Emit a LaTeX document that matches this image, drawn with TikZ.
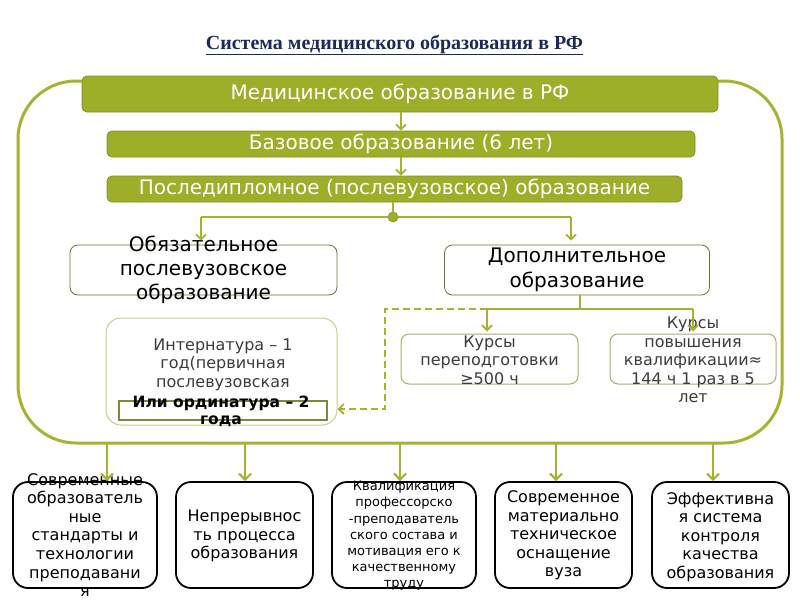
\documentclass[tikz,border=0pt]{standalone}
\usepackage{fontspec}
\setmainfont{DejaVu Sans}
\newfontfamily\titlefont{Liberation Serif}
\usetikzlibrary{arrows.meta}
\definecolor{barfill}{RGB}{157,174,40}
\definecolor{barline}{RGB}{130,145,30}
\definecolor{lineol}{RGB}{166,178,50}
\definecolor{titlecol}{RGB}{26,40,92}
\definecolor{boxline}{RGB}{110,110,60}
\definecolor{paleline}{RGB}{200,204,140}
\definecolor{kline}{RGB}{170,172,110}
\definecolor{ortline}{RGB}{130,135,60}
\definecolor{greytext}{RGB}{60,60,60}
\begin{document}
\begin{tikzpicture}[x=1pt,y=-1pt,
  bar/.style={fill=barfill,draw=barline,line width=0.8pt,rounded corners=5pt,text=white,inner sep=0pt,font=\fontsize{20}{23}\selectfont},
  midbox/.style={draw=boxline,line width=0.8pt,rounded corners=8pt,fill=white,inner sep=0pt},
  paleb/.style={draw=paleline,line width=1pt,rounded corners=15pt,fill=white,inner sep=0pt},
  kbox/.style={draw=kline,line width=1pt,rounded corners=8pt,fill=white,inner sep=0pt},
  botbox/.style={draw=black,line width=1.8pt,rounded corners=15pt,fill=white,inner sep=0pt,minimum height=106pt},
  txt/.style={align=center,inner sep=0pt},
  conn/.style={draw=lineol,line width=1.8pt},
  arr/.style={conn,-{Straight Barb[length=5pt,width=10pt]}},
  arrb/.style={draw=lineol,line width=2.2pt,-{Straight Barb[length=6pt,width=12pt]}},
  bf/.style={font=\fontsize{16}{18.6}\selectfont}
]
\useasboundingbox (0,0) rectangle (800,600);

% title
\node[txt,text=titlecol] (title) at (394.5,45) {\titlefont\bfseries\fontsize{20}{23}\selectfont\underline{Система медицинского образования в РФ}};

% big frame
\node[draw=lineol,line width=3pt,rounded corners=58pt,minimum width=764pt,minimum height=362pt,inner sep=0pt] (frame) at (400,262) {};

% bars
\node[bar,minimum width=636pt,minimum height=36pt] (top) at (400,94) {Медицинское образование в РФ};
\node[bar,minimum width=588pt,minimum height=26pt] (base) at (401,144) {Базовое образование (6 лет)};
\node[bar,minimum width=575pt,minimum height=26pt] (post) at (394.5,189) {Последипломное (послевузовское) образование};
\node[circle,fill=barfill,draw=barline,line width=0.6pt,minimum size=10pt,inner sep=0pt] (dot) at (393,217) {};

\draw[arr] (top.south -| base.south) -- (base.north);
\draw[arr] (base.south) -- (base.south |- post.north);
\draw[conn] (post.south -| dot) -- (dot);

% second level
\node[midbox,minimum width=267pt,minimum height=50pt] (obz) at (203.5,270) {};
\node[txt,font=\fontsize{20}{24}\selectfont] (obzt) at (obz.center) {Обязательное\\послевузовское\\образование};
\node[midbox,minimum width=265pt,minimum height=50pt] (dop) at (577,270) {};
\node[txt,font=\fontsize{20}{25}\selectfont] (dopt) at (dop.center) {Дополнительное\\образование};

\coordinate (jl) at (201,217);
\coordinate (jr) at (571,217);
\draw[conn] (jl) -- (dot) -- (jr);
\draw[arr,shorten >=4pt] (jl) -- (jl |- obz.north);
\draw[arr,shorten >=4pt] (jr) -- (jr |- dop.north);

% third level
\node[paleb,minimum width=231pt,minimum height=107pt] (int) at (221.5,371.5) {};
\node[txt,bf,text=greytext] (intt) at (223,364.5) {Интернатура – 1\\год(первичная\\послевузовская};
\node[draw=ortline,line width=2pt,minimum width=208pt,minimum height=19pt,inner sep=0pt] (ort) at (223,410.5) {};
\node[txt,font=\bfseries\fontsize{15.5}{17.5}\selectfont] (ortt) at (221,411.5) {Или ординатура – 2\\года};

\node[kbox,minimum width=177pt,minimum height=50pt] (k1) at (489.5,359) {};
\node[txt,bf,text=greytext] (k1t) at (489.5,360) {Курсы\\переподготовки\\≥500 ч};
\node[kbox,minimum width=166pt,minimum height=50pt] (k2) at (693,359) {};
\node[txt,bf,text=greytext] (k2t) at (693,360) {Курсы\\повышения\\квалификации≈\\144 ч 1 раз в 5\\лет};

\coordinate (dj) at (580,309);
\coordinate (k1j) at (487,309);
\coordinate (k2j) at (693,309);
\draw[conn] (dop.south -| dj) -- (dj);
\draw[conn] (k1j) -- (k2j);
\draw[arr,shorten >=2pt] (k1j) -- (k1j |- k1.north);
\draw[arr,shorten >=2pt] (k2j) -- (k2j |- k2.north);
\coordinate (d1) at (385,309);
\coordinate (d2) at (385,409);
\draw[arr,dash pattern=on 7pt off 4pt] (k1j) -- (d1) -- (d2) -- (d2 -| int.east);

% bottom boxes
\node[botbox,minimum width=144pt] (b1) at (85,535) {};
\node[botbox,minimum width=137pt] (b2) at (244.5,535) {};
\node[botbox,minimum width=144pt] (b3) at (404,535) {};
\node[botbox,minimum width=137pt] (b4) at (563.5,535) {};
\node[botbox,minimum width=137pt] (b5) at (720.5,535) {};

\node[txt,bf] (b1t) at (85,535) {Современные\\образователь\\ные\\стандарты и\\технологии\\преподавани\\я};
\node[txt,bf] (b2t) at (244.5,536) {Непрерывнос\\ть процесса\\образования};
\node[txt,font=\fontsize{13}{16.2}\selectfont] (b3t) at (404,536) {Квалификация\\профессорско\\-преподаватель\\ского состава и\\мотивация его к\\качественному\\труду};
\node[txt,bf] (b4t) at (563.5,535.5) {Современное\\материально\\техническое\\оснащение\\вуза};
\node[txt,bf] (b5t) at (720.5,537) {Эффективна\\я система\\контроля\\качества\\образования};

\coordinate (a1) at (107,443);
\coordinate (a2) at (245,443);
\coordinate (a3) at (400,443);
\coordinate (a4) at (556,443);
\coordinate (a5) at (713,443);
\draw[arrb] (a1) -- (a1 |- b1.north);
\draw[arrb] (a2) -- (a2 |- b2.north);
\draw[arrb] (a3) -- (a3 |- b3.north);
\draw[arrb] (a4) -- (a4 |- b4.north);
\draw[arrb] (a5) -- (a5 |- b5.north);
\end{tikzpicture}
\end{document}
